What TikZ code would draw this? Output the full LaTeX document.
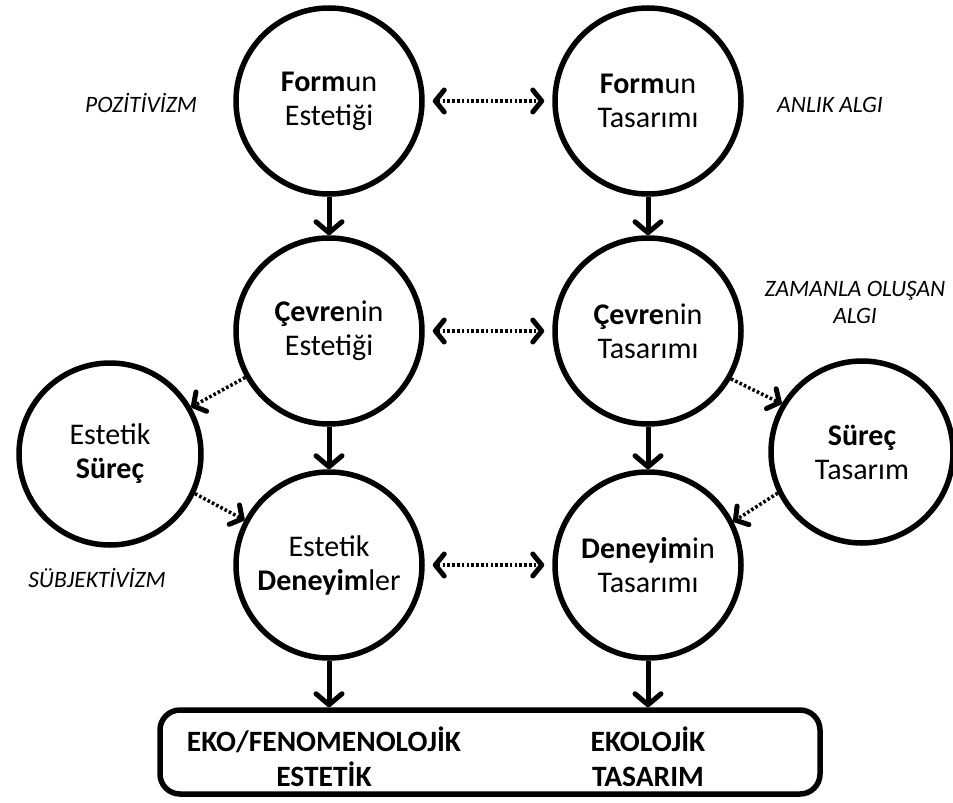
\documentclass[tikz,border=0pt]{standalone}
\usepackage{fontspec}
\setmainfont{Carlito}
\usetikzlibrary{arrows.meta}
\tikzset{
  circ/.style={circle, draw, line width=5.5pt, minimum size=186pt, inner sep=0pt, align=center, font=\fontsize{30}{34}\selectfont},
  side/.style={circ, minimum size=182pt},
  solidarr/.style={line width=5pt, -{Straight Barb[length=11pt,width=26pt,line width=5pt,round]}},
  dotarr/.style={line width=3.5pt, dash pattern=on 2.6pt off 2.2pt, {Straight Barb[length=9pt,width=22pt,line width=5pt,round]}-{Straight Barb[length=9pt,width=22pt,line width=5pt,round]}},
  dotone/.style={line width=3.5pt, dash pattern=on 2.6pt off 2.2pt, -{Straight Barb[length=9pt,width=22pt,line width=5pt,round]}},
  lbl/.style={font=\itshape\fontsize{23.5}{27}\selectfont, align=center},
  boxtxt/.style={font=\bfseries\fontsize{29.5}{35}\selectfont, align=center, inner sep=0pt}
}
\begin{document}
\begin{tikzpicture}[x=1pt,y=-1pt]
\useasboundingbox (0,0) rectangle (953,803);
\node[circ] (tl) at (329,101) {\textbf{Form}un\\Estetiği};
\node[circ] (tr) at (648,101) {\textbf{Form}un\\Tasarımı};
\node[circ] (ml) at (329,331) {\textbf{Çevre}nin\\Estetiği};
\node[circ] (mr) at (648,331) {\textbf{Çevre}nin\\Tasarımı};
\node[circ] (bl) at (329,565) {Estetik\\\textbf{Deneyim}ler};
\node[circ] (br) at (648,565) {\textbf{Deneyim}in\\Tasarımı};
\node[side] (sl) at (110,454) {Estetik\\\textbf{Süreç}};
\node[side] (sr) at (862,452) {\textbf{Süreç}\\Tasarım};
\node[draw, line width=5.5pt, rounded corners=20pt, minimum width=660pt, minimum height=84pt] (box) at (490,752) {};
\node[boxtxt] (t1) at (324,757) {EKO/FENOMENOLOJİK\\ESTETİK};
\node[boxtxt] (t2) at (648,757) {EKOLOJİK\\TASARIM};
\node[lbl] (pz) at (141,103) {POZİTİVİZM};
\node[lbl] (an) at (830,105) {ANLIK ALGI};
\node[lbl] (za) at (855,302) {ZAMANLA OLUŞAN\\ALGI};
\node[lbl] (sb) at (97,578) {SÜBJEKTİVİZM};
\draw[solidarr] (tl) -- (ml);
\draw[solidarr] (tr) -- (mr);
\draw[solidarr] (ml) -- (bl);
\draw[solidarr] (mr) -- (br);
\draw[solidarr] (bl.south) -- (bl.south |- box.north);
\draw[solidarr] (br.south) -- (br.south |- box.north);
\draw[dotarr, shorten <=8pt, shorten >=8pt] (tl.east) -- (tr.west);
\draw[dotarr, shorten <=8pt, shorten >=8pt] (ml.east) -- (mr.west);
\draw[dotarr, shorten <=8pt, shorten >=8pt] (bl.east) -- (br.west);
\draw[dotone] (ml.209) -- (sl.30);
\draw[dotone] (sl.-25) -- (bl.152);
\draw[dotone] (mr.-30) -- (sr.149);
\draw[dotone] (sr.206) -- (br.27);
\end{tikzpicture}
\end{document}
